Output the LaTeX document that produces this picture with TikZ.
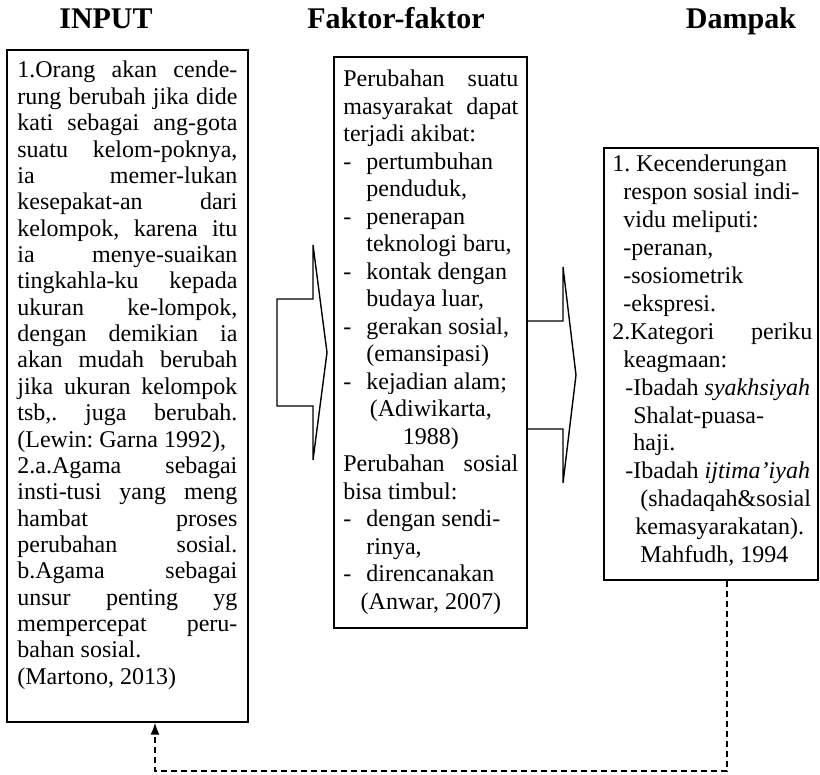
\documentclass[tikz,border=0pt]{standalone}
\usepackage{fontspec}
\setmainfont{Liberation Serif}
\usetikzlibrary{arrows.meta}
\newcommand{\rata}[1]{\makebox[\linewidth][s]{#1}}
\newcommand{\strip}{\makebox[11.5pt][l]{-}}
\begin{document}
\frenchspacing
\begin{tikzpicture}[x=0.5pt, y=-0.5pt,
    kotak/.style={draw, line width=0.8pt, inner sep=0pt, anchor=north west},
    isi/.style={anchor=base west, inner sep=0pt, align=justify},
    judul/.style={anchor=base, font=\bfseries\fontsize{15}{18}\selectfont},
    panah/.style={line width=0.7pt, line join=miter},
    umpan/.style={line width=0.8pt, dash pattern=on 3pt off 2pt}]
    \useasboundingbox (0,0) rectangle (820,775);

    \node[judul] (jInput) at (106,29) {INPUT};
    \node[judul] (jFaktor) at (396,29) {Faktor-faktor};
    \node[judul] (jDampak) at (741,29) {Dampak};

    \node[kotak, minimum width=120.5pt, minimum height=336pt] (input) at (6,49) {};
    \node[kotak, minimum width=96.5pt, minimum height=285.5pt] (faktor) at (333,56) {};
    \node[kotak, minimum width=107pt, minimum height=216pt] (dampak) at (603,147) {};

    \node[isi, text width=110pt, font=\fontsize{12}{13.18}\selectfont] (tInput) at (17,78) {%
        \rata{1.Orang akan cende-}\\
        \rata{rung berubah jika dide}\\
        \rata{kati sebagai ang-gota}\\
        \rata{suatu kelom-poknya,}\\
        \rata{ia memer-lukan}\\
        \rata{kesepakat-an dari}\\
        \rata{kelompok, karena itu}\\
        \rata{ia menye-suaikan}\\
        \rata{tingkahla-ku kepada}\\
        \rata{ukuran ke-lompok,}\\
        \rata{dengan demikian ia}\\
        \rata{akan mudah berubah}\\
        \rata{jika ukuran kelompok}\\
        \rata{tsb,. juga berubah.}\\
        (Lewin: Garna 1992),\\
        \rata{2.a.Agama sebagai}\\
        \rata{insti-tusi yang meng}\\
        \rata{hambat proses}\\
        \rata{perubahan sosial.}\\
        \rata{b.Agama sebagai}\\
        \rata{unsur penting yg}\\
        \rata{mempercepat peru-}\\
        bahan sosial.\\
        (Martono, 2013)};

    \node[isi, text width=87.5pt, font=\fontsize{12}{13.75}\selectfont] (tFaktor) at (343,87) {%
        \rata{Perubahan suatu}\\
        \rata{masyarakat dapat}\\
        terjadi akibat:\\
        \strip pertumbuhan\\
        \hspace*{11.5pt}penduduk,\\
        \strip penerapan\\
        \hspace*{11.5pt}teknologi baru,\\
        \strip kontak dengan\\
        \hspace*{11.5pt}budaya luar,\\
        \strip gerakan sosial,\\
        \hspace*{11.5pt}(emansipasi)\\
        \strip kejadian alam;\\
        \makebox[\linewidth][c]{(Adiwikarta,}\\
        \makebox[\linewidth][c]{1988)}\\
        \rata{Perubahan sosial}\\
        bisa timbul:\\
        \strip dengan sendi-\\
        \hspace*{11.5pt}rinya,\\
        \strip direncanakan\\
        \makebox[\linewidth][c]{(Anwar, 2007)}};

    \node[isi, text width=100pt, font=\fontsize{12}{13.95}\selectfont] (tDampak) at (612,172) {%
        1. Kecenderungan\\
        \hspace*{5.5pt}respon sosial indi-\\
        \hspace*{5.5pt}vidu meliputi:\\
        \hspace*{5.5pt}-peranan,\\
        \hspace*{5.5pt}-sosiometrik\\
        \hspace*{5.5pt}-ekspresi.\\
        \rata{2.Kategori periku}\\
        \hspace*{5.5pt}keagmaan:\\
        \hspace*{6.5pt}-Ibadah \textit{syakhsiyah}\\
        \hspace*{10.5pt}Shalat-puasa-\\
        \hspace*{10.5pt}haji.\\
        \hspace*{6.5pt}-Ibadah \textit{ijtima'iyah}\\
        \hspace*{14pt}(shadaqah\&sosial\\
        \hspace*{11.5pt}kemasyarakatan).\\
        \hspace*{14pt}Mahfudh, 1994};

    \draw[panah] (277,299) -- (313,299) -- (313,245) -- (327,352.5) -- (313,460) -- (313,406) -- (277,406) -- cycle;
    \draw[panah] (527,321) -- (563,321) -- (563,267) -- (576,375) -- (563,483) -- (563,429) -- (527,429) -- cycle;

    \coordinate (b1) at (727,771);
    \coordinate (b2) at (155,771);
    \draw[umpan, -{Latex[length=6pt, width=4.5pt]}] (dampak.south -| b1) -- (b1) -- (b2) -- (input.south -| b2);
\end{tikzpicture}
\end{document}
